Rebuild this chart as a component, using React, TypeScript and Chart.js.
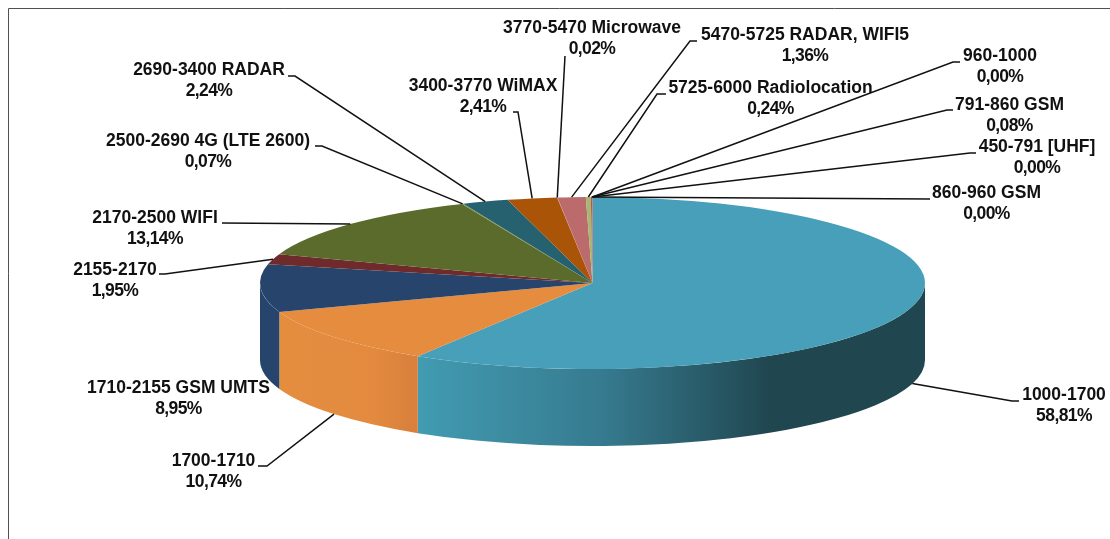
import { useEffect, useRef } from "react";
import { Chart, registerables } from "chart.js";

Chart.register(...registerables);

const bands = [
  "1000-1700", "1700-1710", "1710-2155 GSM UMTS", "2155-2170", "2170-2500 WIFI",
  "2500-2690 4G (LTE 2600)", "2690-3400 RADAR", "3400-3770 WiMAX", "3770-5470 Microwave",
  "5470-5725 RADAR, WIFI5", "5725-6000 Radiolocation", "791-860 GSM", "450-791 [UHF]",
  "860-960 GSM", "960-1000",
];
const shares = [58.81, 10.74, 8.95, 1.95, 13.14, 0.07, 2.24, 2.41, 0.02, 1.36, 0.24, 0.08, 0, 0, 0];
const topColors = [
  "#479fb9", "#e58c3f", "#27446c", "#6f2b2b", "#5a6b2c", "#7a8f3c", "#266170", "#aa5407",
  "#c9756c", "#bb6b6b", "#a4b86f", "#c0504d", "#8064a2", "#4bacc6", "#f79646",
];

// Layout of each outside label: centre x, centre y of first line, then the elbow of its leader.
const labelLayout: number[][] = [
  [1064, 395, 1012, 401, 1019, 401],
  [213.5, 461, 267, 466, 258, 466],
  [178.5, 388],
  [115, 270, 165, 274, 159, 274],
  [155, 218, 222, 223],
  [208, 141, 322, 146, 315, 146],
  [209, 70, 295, 76, 288, 76],
  [483, 86, 518, 112, 513, 112],
  [592, 28, 565, 56],
  [805, 35, 690, 41, 697, 41],
  [770.5, 88, 657, 94, 666, 94],
  [1009.5, 105, 947, 110, 953, 110],
  [1037, 147, 970, 153, 976, 153],
  [986.5, 193, 930, 199],
  [1000, 56, 953, 62, 960, 62],
];

const SQUASH = 86 / 332.5;
const DEPTH = 77;
const TAU = Math.PI * 2;

const wallStops: Record<number, [number, number, [number, string][]]> = {
  0: [415, 925, [[0, "#429cb2"], [0.37, "#367a8f"], [0.7, "#20464f"], [1, "#20464f"]]],
  1: [278, 415, [[0, "#e48d3f"], [0.7, "#e38a3e"], [1, "#d8803c"]]],
  2: [260, 278, [[0, "#27446c"], [1, "#27446c"]]],
};

const pie3d = {
  id: "pie3d",
  beforeDatasetsDraw(chart: any) {
    const { ctx } = chart;
    const arcs = chart.getDatasetMeta(0).data;
    ctx.save();
    arcs.forEach((arc: any, i: number) => {
      const rx = arc.outerRadius;
      const ry = rx * SQUASH;
      for (const k of [0, 1]) {
        const a = Math.max(arc.startAngle, k * TAU);
        const b = Math.min(arc.endAngle, k * TAU + Math.PI);
        if (b <= a) continue;
        ctx.beginPath();
        ctx.ellipse(arc.x, arc.y, rx, ry, 0, a, b);
        ctx.ellipse(arc.x, arc.y + DEPTH, rx, ry, 0, b, a, true);
        ctx.closePath();
        const w = wallStops[i];
        if (w) {
          const g = ctx.createLinearGradient(w[0], 0, w[1], 0);
          w[2].forEach(([o, c]) => g.addColorStop(o, c));
          ctx.fillStyle = g;
        } else ctx.fillStyle = topColors[i];
        ctx.fill();
      }
    });
    ctx.restore();
  },
  beforeDatasetDraw(chart: any) {
    const { ctx } = chart;
    const arc = chart.getDatasetMeta(0).data[0];
    ctx.save();
    ctx.translate(arc.x, arc.y);
    ctx.scale(1, SQUASH);
    ctx.translate(-arc.x, -arc.y);
  },
  afterDatasetDraw(chart: any) {
    chart.ctx.restore();
  },
  afterDatasetsDraw(chart: any) {
    const { ctx, width, height } = chart;
    const arcs = chart.getDatasetMeta(0).data;
    ctx.save();
    // frame
    ctx.strokeStyle = "#505050";
    ctx.lineWidth = 1;
    ctx.beginPath();
    ctx.moveTo(8.5, height);
    ctx.lineTo(8.5, 8.5);
    ctx.lineTo(width, 8.5);
    ctx.stroke();
    // leaders
    ctx.strokeStyle = "#111111";
    ctx.lineWidth = 1.5;
    arcs.forEach((arc: any, i: number) => {
      const lay = labelLayout[i];
      if (lay.length < 4) return;
      const mid = (arc.startAngle + arc.endAngle) / 2;
      const rx = arc.outerRadius;
      const sx = arc.x + rx * Math.cos(mid);
      const sy = arc.y + rx * SQUASH * Math.sin(mid) + (Math.sin(mid) > 0.05 ? DEPTH : 0);
      ctx.beginPath();
      ctx.moveTo(sx, sy);
      for (let p = 2; p < lay.length; p += 2) ctx.lineTo(lay[p], lay[p + 1]);
      ctx.stroke();
    });
    // labels
    ctx.fillStyle = "#111111";
    ctx.textAlign = "center";
    ctx.textBaseline = "middle";
    ctx.font = 'bold 17.5px "Liberation Sans"';
    bands.forEach((b, i) => {
      const lay = labelLayout[i];
      ctx.letterSpacing = "0px";
      ctx.fillText(b, lay[0], lay[1]);
      ctx.letterSpacing = "-0.6px";
      ctx.fillText(shares[i].toFixed(2).replace(".", ",") + "%", lay[0], lay[1] + 21);
    });
    ctx.letterSpacing = "0px";
    ctx.restore();
  },
};

export default function App() {
  const ref = useRef<HTMLCanvasElement>(null);
  useEffect(() => {
    document.body.style.margin = "0";
    document.body.style.background = "#fff";
    const chart = new Chart(ref.current!, {
      type: "pie",
      data: {
        labels: bands,
        datasets: [{ data: shares, backgroundColor: topColors, borderWidth: 0, clip: false } as any],
      },
      options: {
        responsive: false,
        animation: false,
        radius: 332.5,
        layout: { padding: { left: 75, top: 27, right: 0, bottom: 0 } },
        plugins: { legend: { display: false }, tooltip: { enabled: false } },
      } as any,
      plugins: [pie3d],
    });
    return () => chart.destroy();
  }, []);
  return <canvas ref={ref} width={1110} height={539} style={{ display: "block" }} />;
}
